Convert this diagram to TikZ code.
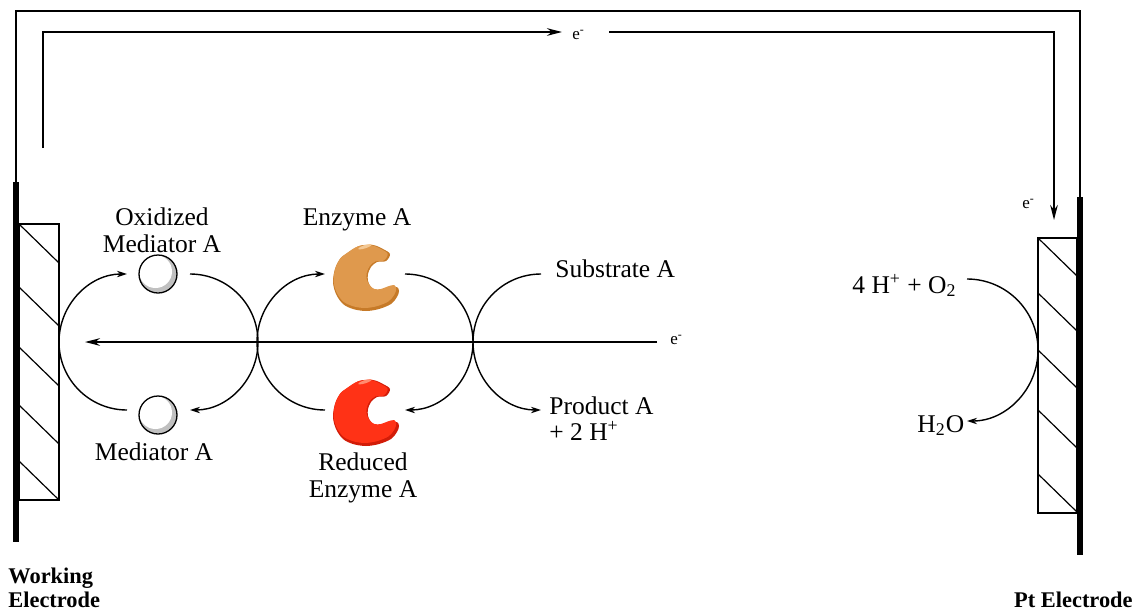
\documentclass[tikz,border=0pt]{standalone}
\usepackage{fontspec}
\setmainfont{Liberation Serif}
\usetikzlibrary{arrows.meta}
\definecolor{enzox}{RGB}{223,153,77}
\definecolor{enzoxdark}{RGB}{198,122,40}
\definecolor{enzoxlight}{RGB}{243,200,148}
\definecolor{enzred}{RGB}{255,50,22}
\definecolor{enzreddark}{RGB}{210,28,8}
\definecolor{enzredlight}{RGB}{255,140,112}
\definecolor{medshade}{RGB}{192,192,192}

% C-shaped enzyme blob around the origin (pixel units)
\newcommand{\enzymepath}{plot[smooth cycle, tension=0.55] coordinates {(-20,-25) (-7,-33) (7,-34) (17,-30) (24,-25) (20,-18) (11,-17) (5,-12) (2,-5) (2,2) (5,8) (10,12) (17,12) (25,9) (31,8) (33,12) (31,18) (25,25) (13,30) (0,32) (-13,30) (-23,25) (-30,15) (-33,3) (-31,-10) (-26,-20)}}

\begin{document}
\begin{tikzpicture}[x=0.5pt, y=-0.5pt,
    wire/.style={line width=1pt},
    wirearrow/.style={wire, -{Stealth[length=7.5pt,width=3.8pt]}},
    reaction/.style={line width=0.7pt, -{Stealth[length=5pt,width=3.2pt]}},
    hatchline/.style={line width=0.6pt},
    electrodebar/.style={line width=3pt},
    txt/.style={font=\fontsize{12.75}{13.5}\selectfont, inner sep=0pt},
    etxt/.style={font=\fontsize{8.5}{9}\selectfont, inner sep=0pt},
    eltxt/.style={font=\fontsize{11.2}{12}\selectfont\bfseries, inner sep=0pt, align=left},
    mediator/.style={circle, draw, line width=0.65pt, minimum size=19pt, inner sep=0pt,
      path picture={
        \fill[medshade] (path picture bounding box.center) circle[radius=19];
        \fill[white] ([shift={(-2.5,-2.5)}]path picture bounding box.center) circle[radius=16.5];
      }}]

  \useasboundingbox (0,0) rectangle (1135,611);

  % working electrode
  \draw[electrodebar] (16,182) coordinate (wetop) -- (16,542);
  \draw[hatchline] (19,224) rectangle (59,500);
  \foreach \y in {224,287,347,405,461}
    \draw[hatchline] (19,\y) -- (59,\y+39);

  % Pt electrode
  \draw[electrodebar] (1080,197) coordinate (pttop) -- (1080,555);
  \draw[hatchline] (1038,238) rectangle (1077,513);
  \foreach \y in {238,293,350,410,474}
    \draw[hatchline] (1038,\y) -- (1077,\y+38);

  % external circuit
  \draw[wire] (wetop) -- (16,11) -| (pttop);

  \node[etxt, anchor=base west] (etop) at (572,39) {e\textsuperscript{-}};
  \node[etxt, anchor=base west] (ept) at (1022,208) {e\textsuperscript{-}};
  \coordinate (wirestart) at (43,148);
  \coordinate (wirehead) at (562,32);
  \coordinate (wireresume) at (609,32);
  \coordinate (wireend) at (1054,220);
  \draw[wirearrow] (wirestart) |- (wirehead);
  \draw[wirearrow] (wireresume) -| (wireend);

  % electron flow towards the working electrode
  \node[etxt, anchor=base west] (eflow) at (670,344) {e\textsuperscript{-}};
  \coordinate (flowend) at (85,342);
  \draw[wirearrow, shorten <=6.5pt] (flowend -| eflow.west) -- (flowend);

  % mediator
  \node[mediator] (medox) at (158,274) {};
  \node[mediator] (medred) at (158,415) {};
  \coordinate (medbl) at (127,410);
  \coordinate (medtr) at (190,274);
  \draw[reaction] (medbl) arc[start angle=90, end angle=270, radius=68];
  \draw[reaction] (medtr) arc[start angle=-90, end angle=90, radius=68];

  % enzyme
  \coordinate (enzA) at (366,279);
  \coordinate (enzAred) at (366,414);
  \fill[enzoxdark, shift={(enzA)}] \enzymepath;
  \fill[enzox, shift={(enzA)}, scale=0.95, shift={(-1.2,-1.5)}] \enzymepath;
  \fill[enzoxlight, shift={(enzA)}, rotate=18] (9,-31) ellipse[x radius=7, y radius=1.6];
  \fill[enzreddark, shift={(enzAred)}] \enzymepath;
  \fill[enzred, shift={(enzAred)}, scale=0.95, shift={(-1.2,-1.5)}] \enzymepath;
  \fill[enzredlight, shift={(enzAred)}, rotate=18] (9,-31) ellipse[x radius=7, y radius=1.6];
  \coordinate (enzbl) at (325,410);
  \coordinate (enztr) at (405,274);
  \draw[reaction] (enzbl) arc[start angle=90, end angle=270, radius=68];
  \draw[reaction] (enztr) arc[start angle=-90, end angle=90, radius=68];

  % substrate
  \coordinate (subin) at (541,274);
  \draw[reaction] (subin) arc[start angle=270, end angle=90, radius=68];

  % oxygen reduction
  \coordinate (o2in) at (967,279);
  \draw[reaction] (o2in) arc[start angle=-90, end angle=90, radius=71];

  % labels
  \node[txt, align=center] (oxmedlab) at (162,230) {Oxidized\\Mediator A};
  \node[txt, anchor=base] (enzlab) at (357,225) {Enzyme A};
  \node[txt, anchor=base] (medlab) at (154,460) {Mediator A};
  \node[txt, align=center] (redlab) at (363,478) {Reduced\\Enzyme A};
  \node[txt, anchor=base west] (sublab) at (555,277) {Substrate A};
  \node[txt, anchor=base west] (prodlab) at (549,414) {Product A};
  \node[txt, anchor=base west] (protonlab) at (549,440) {+ 2 H\textsuperscript{+}};
  \node[txt, anchor=base west] (o2lab) at (852,293) {4 H\textsuperscript{+} + O\textsubscript{2}};
  \node[txt, anchor=base west] (waterlab) at (917,432) {H\textsubscript{2}O};
  \node[eltxt, anchor=west] (welab) at (8,588) {Working\\Electrode};
  \node[eltxt, anchor=base east] (ptlab) at (1133,607) {Pt Electrode};

\end{tikzpicture}
\end{document}
